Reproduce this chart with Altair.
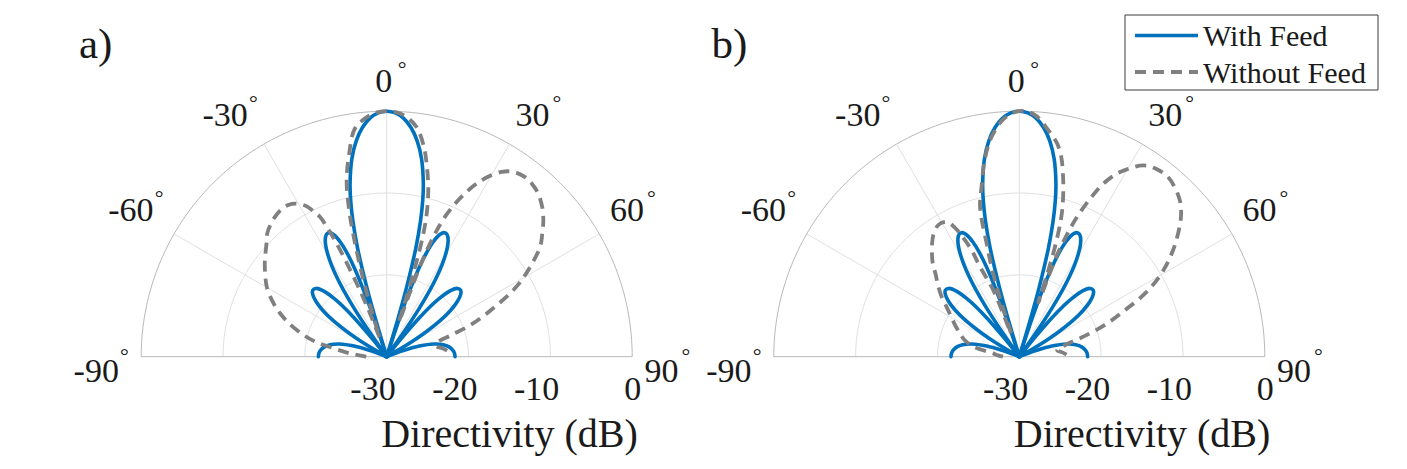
import altair as alt
import pandas as pd

# ---------------- data ----------------
PANELS = ["a)", "b)"]
SERIES = ["With Feed", "Without Feed"]
THETA_TICKS = [-90, -60, -30, 0, 30, 60, 90]
THETA_LABELS = ["-90", "-60", "-30", "0", "30", "60", "90"]
R_TICKS = [-30, -20, -10, 0]
R_LABELS = ["-30", "-20", "-10", "0"]
R_GRID = [-20, -10, 0]
SPOKES = [-60, -30, 0, 30, 60]
AXIS_TITLE = "Directivity (dB)"
DB_MIN = -30

# With Feed (same in both panels): angle (deg) / directivity (dB); -30 dB = null at centre
FEED_ANG = [-90, -87, -84, -81, -78, -75, -72, -70, -69, -64.16,
            -60, -59, -58, -56, -54, -52, -50, -48, -46, -44, -42, -41, -40, -39, -38.5, -36.87,
            -35, -34, -33, -32, -31, -30, -29, -28, -27, -26, -25, -24, -23, -22, -21, -20, -19, -18.5, -17.46,
            -16.5, -16, -15, -14, -13, -12, -10, -8, -6, -4, -2, 0, 2, 4, 6, 8, 10, 12, 13, 14, 15, 16, 16.5,
            17.46, 18.5, 19, 20, 21, 22, 23, 24, 25, 26, 27, 28, 29, 30, 31, 32, 33, 34, 35, 36.87,
            38.5, 39, 40, 41, 42, 44, 46, 48, 50, 52, 54, 56, 58, 59, 60, 64.16,
            69, 70, 72, 75, 78, 81, 84, 87, 90]
FEED_DB = [-21.65, -21.71, -21.91, -22.29, -22.94, -24.02, -25.81, -27.74, -29.05, -30,
           -28.31, -26.32, -24.70, -22.17, -20.33, -19.04, -18.21, -17.84, -17.99, -18.78, -20.49, -21.87, -23.83, -26.77, -28.92, -30,
           -26.85, -22.99, -20.34, -18.37, -16.83, -15.63, -14.70, -14.01, -13.55, -13.30, -13.28, -13.51, -14.03, -14.92, -16.31, -18.5, -22.2, -25.3, -30,
           -25.0, -21.19, -16.22, -12.94, -10.45, -8.47, -5.46, -3.33, -1.81, -0.78, -0.19, 0, -0.19, -0.78, -1.81, -3.33, -5.46, -8.47, -10.45, -12.94, -16.22, -21.19, -25.0,
           -30, -25.3, -22.2, -18.5, -16.31, -14.92, -14.03, -13.51, -13.28, -13.30, -13.55, -14.01, -14.70, -15.63, -16.83, -18.37, -20.34, -22.99, -26.85, -30,
           -28.92, -26.77, -23.83, -21.87, -20.49, -18.78, -17.99, -17.84, -18.21, -19.04, -20.33, -22.17, -24.70, -26.32, -28.31, -30,
           -29.05, -27.74, -25.81, -24.02, -22.94, -22.29, -21.91, -21.71, -21.65]

# Without Feed, panel a)
NOFEED_A_ANG = [-90, -85, -81, -78, -75, -71, -68, -65, -60, -56, -52, -47, -44, -40, -36, -33, -30.5, -28,
                -26.5, -25.5, -24.5, -23.7, -22.4, -21.3, -20.0, -18.5, -17.3, -16.4, -15.3, -14.3, -12.8,
                -10.5, -8, -5, -2, 1, 4, 7.4, 10, 11.9, 13.8, 15.4, 16.6, 17.7, 18.6, 19.4, 20.1, 21.1,
                22.6, 25.1, 28.3, 31.9, 34.5, 37.5, 40, 42.9, 46, 48.9, 51.5, 54.3, 58.5, 61.9, 65.2,
                68.9, 71.5, 74.5, 78, 82, 86, 90]
NOFEED_A_DB = [-27.5, -25.5, -23.4, -21.0, -19.3, -17.3, -16.0, -14.8, -13.1, -12.1, -11.1, -9.9, -9.0, -8.3, -7.9, -7.9, -8.3, -9.2,
               -10.3, -11.1, -13.2, -15.3, -19.9, -23.5, -27.5, -25.0, -21.5, -18.5, -14.5, -11.3, -7.9,
               -4.8, -1.9, -0.7, -0.1, 0, -0.4, -1.7, -3.9, -6.2, -8.7, -11.4, -14.3, -19.0, -23.5, -25.5, -19.0, -14.8,
               -11.5, -8.4, -5.5, -3.4, -2.6, -2.3, -2.4, -2.8, -3.6, -4.6, -5.7, -6.9, -9.7, -12.2, -15.4,
               -18.7, -21.6, -23.6, -23.8, -23.0, -22.4, -22.3]

# Without Feed, panel b)
NOFEED_B_ANG = [-90, -86, -82.7, -77.7, -73, -68.5, -64, -59.4, -55.5, -52.3, -48.5, -45.3, -43, -40.3, -37.5,
                -34.9, -31.5, -28.3, -26.5, -25.2, -24.1, -23.6, -21.5, -20.5, -19.7, -18.3, -17.2, -16.1,
                -14.7, -12.5, -10, -7.3, -4, -1, 1.5, 4, 7.3, 10, 11.8, 13.7, 15.5, 16.8, 18.0, 18.7, 19.4,
                20.3, 21.2, 22.2, 23.7, 25.9, 28, 29.5, 32.9, 36, 39.6, 42.5, 45.7, 48.5, 51, 55.3, 59.7,
                63.3, 66.2, 69.7, 72.6, 75.7, 80, 85, 90]
NOFEED_B_DB = [-28.0, -27.3, -26.8, -24.3, -23.0, -22.2, -21.3, -20.3, -19.2, -18.0, -16.7, -15.6, -14.5, -13.5, -12.5,
               -11.7, -11.1, -11.3, -12.4, -14.0, -15.8, -18.0, -21.0, -24.5, -27.0, -22.5, -18.6, -15.6,
               -11.1, -8.7, -5.6, -3.0, -1.0, -0.1, 0, -0.5, -2.1, -3.5, -5.0, -7.4, -10.0, -12.3, -15.9, -19.5, -23.0,
               -17.0, -14.3, -12.0, -9.5, -6.5, -4.7, -3.8, -2.15, -1.6, -1.5, -1.9, -2.6, -3.6, -4.8, -7.15, -9.9,
               -12.8, -15.9, -18.9, -21.8, -24.2, -25.3, -24.6, -23.8]

# ---------------- layout / style ----------------
W, H = 1407, 469
R_PX = 245.5                 # outer ring radius in px
CX = [386.7, 1019.3]         # polar centres (px)
CY = 356.7
U = R_PX / 30.0              # px per dB
OFFS = [0.0, (CX[1] - CX[0]) / U]
XDOM = [-CX[0] / U, (W - CX[0]) / U]
YDOM = [-(H - CY) / U, CY / U]
LABEL_R = 31.5               # radius (dB units) of theta-label anchor
FONT = "Liberation Serif"
TXT = "#1a1a1a"
BLUE = "#0072BD"
GRAY = "#808080"

X = alt.X("x:Q", scale=alt.Scale(domain=XDOM, nice=False, zero=False), axis=None)
Y = alt.Y("y:Q", scale=alt.Scale(domain=YDOM, nice=False, zero=False), axis=None)

# ---------------- curve table ----------------
rows = []


def add(pi, series, angs, dbs, split):
    seg = 0
    for k, (a, d) in enumerate(zip(angs, dbs)):
        rows.append(dict(off=OFFS[pi], series=series, key=f"{pi}-{series}-{seg}", a=a, db=d, i=len(rows)))
        if split and d <= DB_MIN and 0 < k < len(angs) - 1:
            seg += 1
            rows.append(dict(off=OFFS[pi], series=series, key=f"{pi}-{series}-{seg}", a=a, db=d, i=len(rows)))


for pi in range(2):
    add(pi, SERIES[0], FEED_ANG, FEED_DB, True)
add(0, SERIES[1], NOFEED_A_ANG, NOFEED_A_DB, False)
add(1, SERIES[1], NOFEED_B_ANG, NOFEED_B_DB, False)
curves = pd.DataFrame(rows)


def polar(ch):
    return ch.transform_calculate(
        r=f"max(datum.db - ({DB_MIN}), 0)"
    ).transform_calculate(
        x="datum.off + datum.r * sin(datum.a * PI / 180)",
        y="datum.r * cos(datum.a * PI / 180)",
    )


blue = polar(alt.Chart(curves).transform_filter(alt.datum.series == SERIES[0])).mark_line(
    color=BLUE, strokeWidth=3.6, interpolate="catmull-rom", strokeJoin="round", strokeCap="round"
).encode(x=X, y=Y, detail="key:N", order="i:Q")

gray = polar(alt.Chart(curves).transform_filter(alt.datum.series == SERIES[1])).mark_line(
    color=GRAY, strokeWidth=3.8, strokeDash=[11, 7], interpolate="catmull-rom", strokeCap="butt"
).encode(x=X, y=Y, detail="key:N", order="i:Q")

# ---------------- grid ----------------
ring_list = "[" + ",".join(str(g - DB_MIN) for g in R_GRID) + "]"
off_list = "[" + ",".join(str(o) for o in OFFS) + "]"
rings = alt.Chart(alt.sequence(-90, 91, 1, as_="a")).transform_calculate(
    ring=ring_list, off=off_list
).transform_flatten(["ring"]).transform_flatten(["off"]).transform_calculate(
    x="datum.off + datum.ring * sin(datum.a * PI / 180)",
    y="datum.ring * cos(datum.a * PI / 180)",
    key="datum.ring + '_' + datum.off",
    col=f"datum.ring == {0 - DB_MIN} ? '#b8b8b8' : '#e0e0e0'",
).mark_line(strokeWidth=1).encode(
    x=X, y=Y, detail="key:N", order="a:Q", color=alt.Color("col:N", scale=None)
)

spoke_df = pd.DataFrame([dict(off=o, a=a) for o in OFFS for a in SPOKES])
spokes = alt.Chart(spoke_df).transform_calculate(
    x="datum.off", y="0",
    x2=f"datum.off + {0 - DB_MIN} * sin(datum.a * PI / 180)",
    y2=f"{0 - DB_MIN} * cos(datum.a * PI / 180)",
).mark_rule(color="#e0e0e0", strokeWidth=1).encode(x=X, y=Y, x2="x2:Q", y2="y2:Q")

base_df = pd.DataFrame(dict(off=OFFS))
baseline = alt.Chart(base_df).transform_calculate(
    x=f"datum.off + {DB_MIN}", x2=f"datum.off - {DB_MIN}", y="0"
).mark_rule(color="#b8b8b8", strokeWidth=1).encode(x=X, y=Y, x2="x2:Q")

# ---------------- theta labels ----------------
th_df = pd.DataFrame([dict(off=o, a=a, lab=l, deg="\u00b0") for o in OFFS for a, l in zip(THETA_TICKS, THETA_LABELS)])


def th_layer(filt, field, align, baseline_, dx, dy, size):
    return alt.Chart(th_df).transform_filter(filt).transform_calculate(
        x=f"datum.off + {LABEL_R} * sin(datum.a * PI / 180)",
        y=f"{LABEL_R} * cos(datum.a * PI / 180)",
    ).mark_text(align=align, baseline=baseline_, dx=dx, dy=dy, font=FONT, fontSize=size, color=TXT).encode(
        x=X, y=Y, text=f"{field}:N"
    )


neg = "datum.a < 0 && datum.a > -90"
pos = "datum.a > 0 && datum.a < 90"
theta_layers = [
    th_layer(neg, "lab", "right", "bottom", -10, 0, 34),
    th_layer(neg, "deg", "right", "bottom", 0, -18, 22),
    th_layer(pos, "lab", "left", "bottom", 0, 0, 34),
    th_layer(pos, "deg", "left", "bottom", 37, -18, 22),
    th_layer("datum.a == 0", "lab", "center", "bottom", -3, 0, 34),
    th_layer("datum.a == 0", "deg", "left", "bottom", 11, -18, 22),
    th_layer("datum.a == -90", "lab", "right", "top", -10, -2, 34),
    th_layer("datum.a == -90", "deg", "right", "top", 0, -11, 22),
    th_layer("datum.a == 90", "lab", "left", "top", 0, -2, 34),
    th_layer("datum.a == 90", "deg", "left", "top", 37, -11, 22),
]

# ---------------- radial tick labels, titles, panel labels ----------------
rt_df = pd.DataFrame([dict(off=o, v=v, lab=l) for o in OFFS for v, l in zip(R_TICKS, R_LABELS)])
rticks = alt.Chart(rt_df).transform_calculate(
    x=f"datum.off + datum.v - ({DB_MIN})", y=str(-(390 - CY) / U)
).mark_text(align="right", baseline="middle", dx=9, font=FONT, fontSize=34, color=TXT).encode(
    x=X, y=Y, text="lab:N"
)

title_df = pd.DataFrame(dict(off=OFFS, t=[AXIS_TITLE] * 2))
titles = alt.Chart(title_df).transform_calculate(
    x=f"datum.off + {(0 - DB_MIN) / 2}", y=str(-(446.7 - CY) / U)
).mark_text(align="center", baseline="alphabetic", font=FONT, fontSize=40, color=TXT).encode(
    x=X, y=Y, text="t:N"
)

pl_df = pd.DataFrame(dict(off=OFFS, t=PANELS))
plabels = alt.Chart(pl_df).transform_calculate(
    x=f"datum.off + {(79 - CX[0]) / U}", y=str((CY - 57.5) / U)
).mark_text(align="left", baseline="alphabetic", font=FONT, fontSize=43, color=TXT).encode(
    x=X, y=Y, text="t:N"
)

# ---------------- legend ----------------
one = pd.DataFrame(dict(s=SERIES))
leg_box = alt.Chart(one.head(1)).mark_rect(fill="white", stroke="#3a3a3a", strokeWidth=1).encode(
    x=alt.value(1125), x2=alt.value(1378), y=alt.value(15), y2=alt.value(90)
)
leg_l1 = alt.Chart(one.head(1)).mark_rule(color=BLUE, strokeWidth=3.6).encode(
    x=alt.value(1135), x2=alt.value(1198), y=alt.value(35.5)
)
leg_l2 = alt.Chart(one.head(1)).mark_rule(color=GRAY, strokeWidth=3.8, strokeDash=[11, 7]).encode(
    x=alt.value(1135), x2=alt.value(1198), y=alt.value(72)
)
leg_t1 = alt.Chart(one.iloc[[0]]).mark_text(align="left", baseline="middle", font=FONT, fontSize=30, color=TXT).encode(
    x=alt.value(1203), y=alt.value(37), text="s:N"
)
leg_t2 = alt.Chart(one.iloc[[1]]).mark_text(align="left", baseline="middle", font=FONT, fontSize=30, color=TXT).encode(
    x=alt.value(1203), y=alt.value(73.5), text="s:N"
)

chart = alt.layer(
    rings, spokes, baseline, blue, gray, *theta_layers, rticks, titles, plabels,
    leg_box, leg_l1, leg_l2, leg_t1, leg_t2
).properties(
    width=W, height=H, autosize="none", padding=0, background="white"
).configure_view(strokeWidth=0)

chart.save("out.html", embed_options={"renderer": "svg", "actions": False})
